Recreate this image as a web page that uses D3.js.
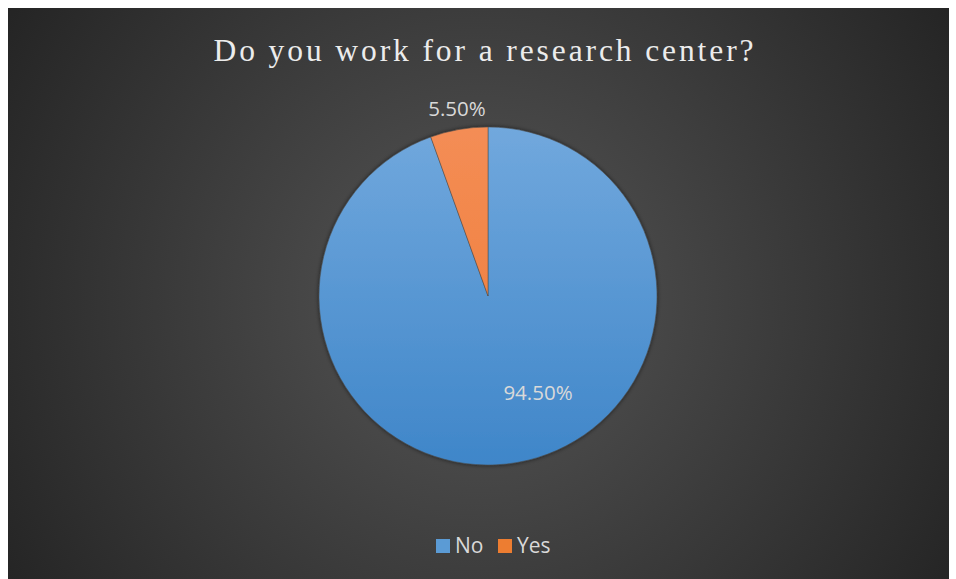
<!DOCTYPE html>
<html><head><meta charset="utf-8">
<script src="https://cdn.jsdelivr.net/npm/d3@7/dist/d3.min.js"></script>
<style>html,body{margin:0;padding:0;background:#fff;}svg{display:block;}</style>
</head><body>
<svg id="chart" width="956" height="579"></svg>
<script>
const title = "Do you work for a research center?";
const categories = ["No", "Yes"];
const values = [94.5, 5.5];
const labels = ["94.50%", "5.50%"];

const W = 956, H = 579;
const svg = d3.select("#chart");
const defs = svg.append("defs");

const bg = defs.append("radialGradient").attr("id","bg")
  .attr("gradientUnits","userSpaceOnUse").attr("cx",480).attr("cy",300).attr("r",560);
bg.append("stop").attr("offset","0").attr("stop-color","#565656");
bg.append("stop").attr("offset","1").attr("stop-color","#242424");

const cx = 488, cy = 296, R = 169;

const gBlue = defs.append("linearGradient").attr("id","gBlue")
  .attr("gradientUnits","userSpaceOnUse").attr("x1",0).attr("y1",-R).attr("x2",0).attr("y2",R);
gBlue.append("stop").attr("offset","0").attr("stop-color","#71a8dd");
gBlue.append("stop").attr("offset","1").attr("stop-color","#3f86c9");
const gOr = defs.append("linearGradient").attr("id","gOr")
  .attr("gradientUnits","userSpaceOnUse").attr("x1",0).attr("y1",-R).attr("x2",0).attr("y2",R);
gOr.append("stop").attr("offset","0").attr("stop-color","#f48d55");
gOr.append("stop").attr("offset","1").attr("stop-color","#ee7a36");

const sh = defs.append("filter").attr("id","sh").attr("x","-10%").attr("y","-10%").attr("width","120%").attr("height","120%");
sh.append("feDropShadow").attr("dx",0).attr("dy",0).attr("stdDeviation",2).attr("flood-color","#000").attr("flood-opacity",0.6);

svg.append("rect").attr("x",8).attr("y",8).attr("width",941).attr("height",H-8).attr("fill","url(#bg)");

svg.append("text").attr("x",485).attr("y",61).attr("text-anchor","middle")
  .attr("font-family","'Liberation Serif','DejaVu Serif',serif").attr("font-size",31.5)
  .attr("letter-spacing",2.9).attr("fill","#ececec").text(title);

const color = d3.scaleOrdinal().domain(categories).range(["url(#gBlue)","url(#gOr)"]);
const pie = d3.pie().sort(null).value(d => d)(values);
const arc = d3.arc().innerRadius(0).outerRadius(R);
const g = svg.append("g").attr("transform",`translate(${cx},${cy})`);
g.append("g").attr("filter","url(#sh)").selectAll("path").data(pie).join("path")
  .attr("d",arc).attr("fill",(d,i)=>color(categories[i]))
  .attr("stroke","#4a4a4a").attr("stroke-width",0.5);

const labelPos = [[50, 99], [-31, -185]];
g.selectAll("text.lbl").data(pie).join("text").attr("class","lbl")
  .attr("x",(d,i)=>labelPos[i][0]).attr("y",(d,i)=>labelPos[i][1])
  .attr("text-anchor","middle").attr("dominant-baseline","middle")
  .attr("font-family","'Open Sans','Noto Sans',sans-serif").attr("font-size",20.5)
  .attr("fill","#d9d9d9").text((d,i)=>labels[i]);

const legendColors = ["#5b9bd5","#ed7d31"];
const lg = svg.append("g");
const items = [{x:436},{x:498}];
categories.forEach((c,i)=>{
  lg.append("rect").attr("x",items[i].x).attr("y",539).attr("width",14).attr("height",14).attr("fill",legendColors[i]);
  lg.append("text").attr("x",items[i].x+19).attr("y",547).attr("dominant-baseline","middle")
    .attr("font-family","'Open Sans','Noto Sans',sans-serif").attr("font-size",21)
    .attr("fill","#d9d9d9").text(c);
});
</script>
</body></html>
